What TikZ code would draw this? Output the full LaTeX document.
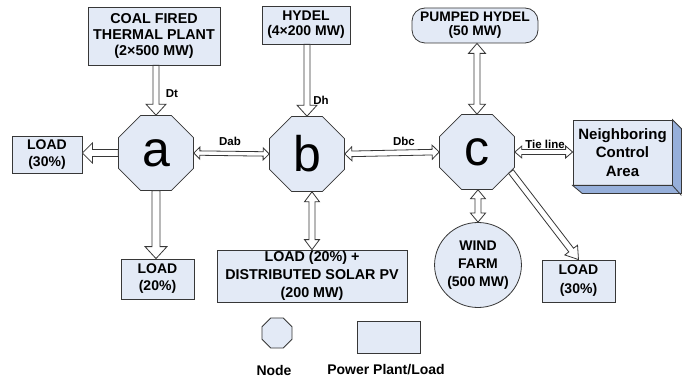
\documentclass[tikz,border=0pt]{standalone}
\usepackage{fontspec}
\setmainfont{Liberation Sans}
\usetikzlibrary{shapes.geometric,calc}
\definecolor{boxfill}{RGB}{227,234,246}
\definecolor{edgecol}{RGB}{55,55,55}
\definecolor{sidecol}{RGB}{150,175,218}
\tikzset{
  arr/.style={draw=edgecol, fill=white, line width=0.8pt, line join=miter},
  box/.style={draw=edgecol, fill=boxfill, line width=0.8pt, align=center, inner sep=0pt,
    font=\bfseries\fontsize{14}{17}\selectfont},
  oct/.style={regular polygon, regular polygon sides=8, draw=edgecol, fill=boxfill,
    line width=0.8pt, minimum size=81pt, inner sep=0pt, font=\fontsize{50}{50}\selectfont},
  lbl/.style={font=\bfseries\fontsize{11.5}{13}\selectfont, inner sep=0pt},
  legtext/.style={font=\bfseries\fontsize{14}{17}\selectfont, inner sep=0pt},
}
% single hollow arrow: [opts]{from}{to}{half shaft}{half head}{head length}
\newcommand\sarrow[6][]{%
  \draw[arr,#1] let \p1=(#2), \p2=(#3), \p3=($(\p2)!#6!(\p1)$) in
    ($(\p1)!#4!90:(\p2)$) -- ($(\p3)!#4!90:(\p2)$) -- ($(\p3)!#5!90:(\p2)$) -- (\p2)
    -- ($(\p3)!#5!-90:(\p2)$) -- ($(\p3)!#4!-90:(\p2)$) -- ($(\p1)!#4!-90:(\p2)$) -- cycle;}
% double hollow arrow
\newcommand\darrow[6][]{%
  \draw[arr,#1] let \p1=(#2), \p2=(#3), \p3=($(\p2)!#6!(\p1)$), \p4=($(\p1)!#6!(\p2)$) in
    ($(\p4)!#4!90:(\p2)$) -- ($(\p3)!#4!90:(\p2)$) -- ($(\p3)!#5!90:(\p2)$) -- (\p2)
    -- ($(\p3)!#5!-90:(\p2)$) -- ($(\p3)!#4!-90:(\p2)$) -- ($(\p4)!#4!-90:(\p2)$)
    -- ($(\p4)!#5!-90:(\p2)$) -- (\p1) -- ($(\p4)!#5!90:(\p2)$) -- cycle;}
\begin{document}
\begin{tikzpicture}[x=1pt,y=-1pt]
\fill[white] (0,0) rectangle (686,385);
\useasboundingbox (0,0) rectangle (686,385);

% nodes
\node[oct] (a) at (156,153) {a};
\node[oct] (b) at (307,154) {b};
\node[oct] (c) at (477,152) {c};

\node[box, minimum width=132pt, minimum height=58pt, font=\bfseries\fontsize{14.3}{16}\selectfont]
  (coal) at (154,36) {COAL FIRED\\THERMAL PLANT\\(2×500 MW)};
\node[box, minimum width=88pt, minimum height=38pt, font=\bfseries\fontsize{14}{15}\selectfont]
  (hydel) at (306,25) {HYDEL\\(4×200 MW)};
\node[box, rounded corners=13pt, minimum width=126pt, minimum height=35pt,
  font=\bfseries\fontsize{13.8}{14}\selectfont]
  (pumped) at (475,25.5) {PUMPED HYDEL\\(50 MW)};
\node[box, minimum width=70pt, minimum height=37pt] (loadL) at (47,154.5) {LOAD\\(30\%)};
\node[box, minimum width=73pt, minimum height=40pt] (load20) at (157.5,279) {LOAD\\(20\%)};
\node[box, minimum width=190pt, minimum height=52pt, font=\bfseries\fontsize{14.3}{18}\selectfont]
  (solar) at (312,276) {LOAD (20\%) +\\DISTRIBUTED SOLAR PV\\(200 MW)};
\node[box, ellipse, minimum width=83pt, minimum height=85pt, font=\bfseries\fontsize{14}{18}\selectfont]
  (wind) at (478,265) {WIND\\FARM\\(500 MW)};
\node[box, minimum width=73pt, minimum height=42pt, font=\bfseries\fontsize{14}{19}\selectfont]
  (loadR) at (578.5,281) {LOAD\\(30\%)};

% neighboring control area (3D box)
\node[box, minimum width=99pt, minimum height=65pt, font=\bfseries\fontsize{15}{18.5}\selectfont]
  (nca) at (622.5,152.5) {Neighboring\\Control\\Area};
\filldraw[fill=sidecol, draw=edgecol, line width=0.8pt, line join=miter]
  (nca.north east) -- ++(9,9) -- ++(0,65) -- ++(-99,0) -- (nca.south west)
  -- (nca.south east) -- cycle;
\draw[edgecol, line width=0.8pt] (nca.south east) -- ++(9,10);

% connectors
\sarrow{a.north |- coal.south}{a.north}{3pt}{10pt}{11pt}
\sarrow{b.north |- hydel.south}{b.north}{3pt}{10pt}{11pt}
\sarrow{a.west}{loadL.east |- a.west}{3.5pt}{10pt}{10pt}
\sarrow{a.south}{a.south |- load20.north}{4pt}{11pt}{12pt}
\darrow{a.east}{b.west}{2.2pt}{6pt}{6pt}
\darrow{b.east}{c.west}{2.8pt}{7pt}{7pt}
\darrow{solar.north |- b.south}{solar.north}{3pt}{7.5pt}{10pt}
\darrow{c.north}{c.north |- pumped.south}{3pt}{8.5pt}{10pt}
\darrow{wind.north |- c.south}{wind.north}{3pt}{7.5pt}{9pt}
\darrow{c.east}{nca.west |- c.east}{2.5pt}{6pt}{7pt}
\sarrow{c.-30}{loadR.north}{3pt}{8pt}{12pt}

% labels
\node[lbl] (ldt) at (172,94) {Dt};
\node[lbl] (ldh) at (321,100) {Dh};
\node[lbl] (ldab) at (230,141) {Dab};
\node[lbl] (ldbc) at (404,141) {Dbc};
\node[lbl] (ltie) at (545,144) {Tie line};

% legend
\node[oct, minimum size=32.5pt] (legoct) at (277,333) {};
\node[box, minimum width=63pt, minimum height=32pt] (legbox) at (388.5,337) {};
\node[legtext] (legnode) at (274,370) {Node};
\node[legtext] (legplant) at (386,370) {Power Plant/Load};
\end{tikzpicture}
\end{document}
